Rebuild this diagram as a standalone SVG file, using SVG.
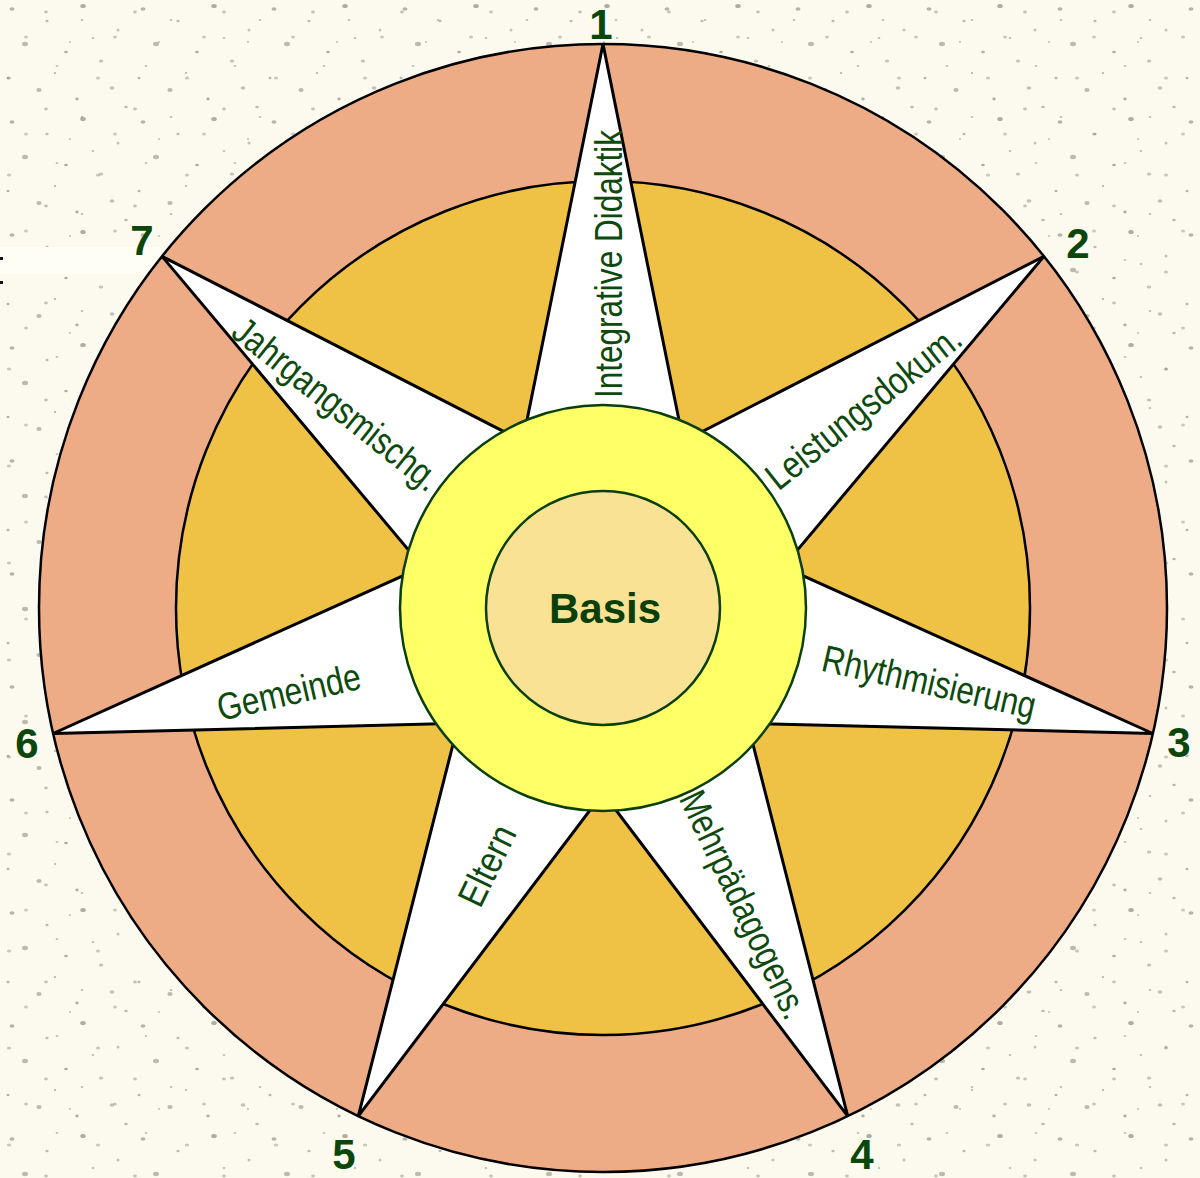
<svg xmlns="http://www.w3.org/2000/svg" width="1200" height="1178" viewBox="0 0 1200 1178">
  <style>
    .lbl { font-family: "Liberation Sans Narrow", "Liberation Sans", Arial, sans-serif; font-size: 38px; fill: #0E4A0E; text-anchor: middle; }
    .num { font-family: "Liberation Sans", Arial, sans-serif; font-size: 42px; font-weight: bold; fill: #0B460B; text-anchor: middle; }
    .basis { font-family: "Liberation Sans", Arial, sans-serif; font-size: 42px; font-weight: bold; fill: #0A3F0A; text-anchor: middle; }
  </style>
  <defs>
    <pattern id="speck1" x="0" y="0" width="131" height="113" patternUnits="userSpaceOnUse">
      <g fill="#6f6d63">
        <ellipse cx="12" cy="9" rx="2.5" ry="1.8" opacity="0.5"/>
        <ellipse cx="47" cy="21" rx="1.6" ry="1.2" opacity="0.45"/>
        <ellipse cx="83" cy="6" rx="2.8" ry="2" opacity="0.55"/>
        <ellipse cx="118" cy="30" rx="1.5" ry="1.5" opacity="0.4"/>
        <ellipse cx="25" cy="44" rx="3" ry="2.2" opacity="0.45"/>
        <ellipse cx="66" cy="52" rx="1.8" ry="1.3" opacity="0.55"/>
        <ellipse cx="101" cy="61" rx="2.2" ry="1.6" opacity="0.4"/>
        <ellipse cx="8" cy="78" rx="1.5" ry="1.2" opacity="0.5"/>
        <ellipse cx="39" cy="90" rx="2.6" ry="1.9" opacity="0.45"/>
        <ellipse cx="77" cy="99" rx="1.7" ry="1.4" opacity="0.55"/>
        <ellipse cx="112" cy="88" rx="2.4" ry="1.7" opacity="0.4"/>
        <ellipse cx="55" cy="73" rx="1.2" ry="1" opacity="0.5"/>
        <ellipse cx="93" cy="38" rx="1.3" ry="1" opacity="0.45"/>
        <ellipse cx="126" cy="107" rx="1.8" ry="1.3" opacity="0.45"/>
      </g>
    </pattern>
    <pattern id="speck2" x="37" y="51" width="89" height="97" patternUnits="userSpaceOnUse">
      <g fill="#7f7c71">
        <ellipse cx="20" cy="15" rx="1.4" ry="1.1" opacity="0.45"/>
        <ellipse cx="61" cy="27" rx="2.2" ry="1.5" opacity="0.4"/>
        <ellipse cx="9" cy="58" rx="1.9" ry="1.4" opacity="0.45"/>
        <ellipse cx="45" cy="66" rx="1.3" ry="1.1" opacity="0.5"/>
        <ellipse cx="78" cy="83" rx="2" ry="1.5" opacity="0.4"/>
        <ellipse cx="33" cy="88" rx="1.1" ry="0.9" opacity="0.45"/>
      </g>
    </pattern>
  </defs>

  <!-- background -->
  <rect x="0" y="0" width="1200" height="1178" fill="#FCFAEE"/>
  <rect x="0" y="0" width="1200" height="1178" fill="url(#speck1)"/>
  <rect x="0" y="0" width="1200" height="1178" fill="url(#speck2)"/>
  <rect x="0" y="247" width="165" height="27" fill="#FFFEF5"/>
  <rect x="0" y="257" width="3" height="3" fill="#111"/>
  <rect x="0" y="281" width="3" height="3" fill="#111"/>

  <g id="outer-ring">
    <circle cx="603" cy="608" r="564" fill="#EDAC85" stroke="#000" stroke-width="2.5"/>
  </g>
  <g id="middle-ring">
    <circle cx="603" cy="608" r="427" fill="#EFC245" stroke="#000" stroke-width="2.5"/>
  </g>

  <g id="star">
    <polygon points="603,44 683.27,441.32 1043.95,256.35 783.36,566.83 1152.86,733.5 747.64,723.35 847.71,1116.15 603,793 358.29,1116.15 458.36,723.35 53.14,733.5 422.64,566.83 162.05,256.35 522.73,441.32" fill="#FFFFFF" stroke="#000" stroke-width="3" stroke-linejoin="miter"/>
  </g>

  <g id="yellow-ring">
    <circle cx="603" cy="608" r="203" fill="#FFFF66" stroke="#0A3F0A" stroke-width="2.5"/>
  </g>
  <g id="basis">
    <circle cx="603" cy="608" r="117" fill="#F9E293" stroke="#0A3F0A" stroke-width="2.5"/>
    <text class="basis" x="605" y="623">Basis</text>
  </g>

  <g id="ray1">
    <text class="lbl" transform="translate(610,264) rotate(-90)" x="0" y="12" textLength="268" lengthAdjust="spacingAndGlyphs">Integrative Didaktik</text>
    <text class="num" x="601" y="39">1</text>
  </g>
  <g id="ray2">
    <text class="lbl" transform="translate(864,408) rotate(-38.57)" x="0" y="12" textLength="238" lengthAdjust="spacingAndGlyphs">Leistungsdokum.</text>
    <text class="num" x="1078" y="258">2</text>
  </g>
  <g id="ray3">
    <text class="lbl" transform="translate(929,683) rotate(12.86)" x="0" y="12" textLength="218" lengthAdjust="spacingAndGlyphs">Rhythmisierung</text>
    <text class="num" x="1179" y="757">3</text>
  </g>
  <g id="ray4">
    <text class="lbl" transform="translate(743,905) rotate(64.29)" x="0" y="12" textLength="248" lengthAdjust="spacingAndGlyphs">Mehrpädagogens.</text>
    <text class="num" x="862" y="1169">4</text>
  </g>
  <g id="ray5">
    <text class="lbl" transform="translate(488,866) rotate(-64.29)" x="0" y="12" textLength="85" lengthAdjust="spacingAndGlyphs">Eltern</text>
    <text class="num" x="344" y="1169">5</text>
  </g>
  <g id="ray6">
    <text class="lbl" transform="translate(289,693) rotate(-12.86)" x="0" y="12" textLength="146" lengthAdjust="spacingAndGlyphs">Gemeinde</text>
    <text class="num" x="27" y="758">6</text>
  </g>
  <g id="ray7">
    <text class="lbl" transform="translate(336,405) rotate(38.57)" x="0" y="12" textLength="253" lengthAdjust="spacingAndGlyphs">Jahrgangsmischg.</text>
    <text class="num" x="142" y="255">7</text>
  </g>
</svg>
